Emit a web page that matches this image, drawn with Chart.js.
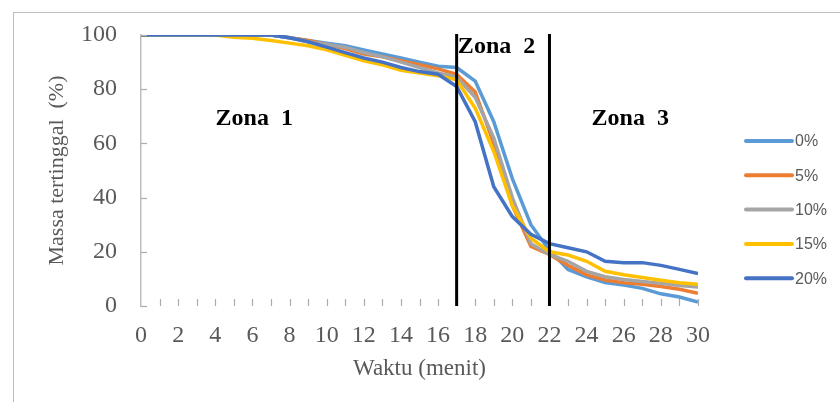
<!DOCTYPE html>
<html lang="id">
<head>
    <meta charset="UTF-8">
    <title>Massa tertinggal</title>
    <script src="https://cdn.jsdelivr.net/npm/chart.js"></script>
    <style>
        html, body { margin: 0; padding: 0; background: #fff; }
        #wrap { position: relative; width: 840px; height: 402px; }
        #frame {
            position: absolute; left: 13px; top: 12px; right: -2px; bottom: -2px;
            border-top: 1.5px solid #BDBDBD; border-left: 1.5px solid #BDBDBD;
            pointer-events: none;
        }
        canvas { position: absolute; left: 0; top: 0; }
    </style>
</head>
<body>
<div id="wrap">
    <canvas id="chart" width="840" height="402"></canvas>
    <div id="frame"></div>
</div>
<script>
    // Waktu (menit)
    const waktu = [0,1,2,3,4,5,6,7,8,9,10,11,12,13,14,15,16,17,18,19,20,21,22,23,24,25,26,27,28,29,30];

    // Massa tertinggal (%) per variasi
    const seriesLabels = ['0%', '5%', '10%', '15%', '20%'];
    const seriesColors = ['#5B9BD5', '#ED7D31', '#A5A5A5', '#FFC000', '#4472C4'];

    const massa0  = [100,100,100,100,100,100,100,100,99,98,97,96,94.5,93,91.5,90,88.5,88,83,68,47,30,20.5,13.5,10.8,8.7,7.7,6.5,4.5,3.3,1.5];
    const massa5  = [100,100,100,100,100,100,100,100,99,98,96.5,95,93,92,90.5,89,87.5,85.5,79,60,37,22,19,15,11.5,9.6,8.6,8,7.2,6.2,4.7];
    const massa10 = [100,100,100,100,100,100,100,100,99,97.5,96.5,95.5,93.5,92,90,88,86,84.5,77,62,40,23,19,16.5,12.8,10.8,9.8,9,8.4,7.6,7];
    const massa15 = [100,100,100,100,100,99.2,98.8,98,97,96,94.5,92.5,90.5,89,87,86,85,83.5,73,57,37,25,20,18.8,16.5,12.8,11.5,10.5,9.5,8.6,8];
    const massa20 = [100,100,100,100,100,100,100,100,99,97.5,95.5,93.5,91.5,90,88,86.5,85.5,81,68,44,33,26.5,23,21.5,20,16.5,16,16,15,13.5,12];

    // Batas zona dan label zona
    const zoneBounds = [17, 22];
    const zoneLabels = ['Zona  1', 'Zona  2', 'Zona  3'];
    const zoneAnchors = [[6.1, 69.2], [19.15, 95.6], [26.35, 69.2]];

    const serif = '"Liberation Serif", "Times New Roman", serif';
    const allSeries = [massa0, massa5, massa10, massa15, massa20];

    const datasets = allSeries.map((vals, i) => ({
        label: seriesLabels[i],
        data: vals.map((v, k) => ({ x: waktu[k], y: v })),
        borderColor: seriesColors[i],
        backgroundColor: seriesColors[i],
        borderWidth: 3.5,
        pointRadius: 0,
        tension: 0,
        order: allSeries.length - 1 - i
    }));

    // Garis zona, label zona, tick ke dalam, dan legenda
    const extras = {
        id: 'extras',
        afterDatasetsDraw(chart) {
            const ctx = chart.ctx;
            const xs = chart.scales.x, ys = chart.scales.y;
            const area = chart.chartArea;
            ctx.save();

            // tick marks pointing inward
            ctx.strokeStyle = '#ABABAB';
            ctx.lineWidth = 1.2;
            xs.ticks.forEach(t => {
                if (t.value === 0) return;
                const px = Math.round(xs.getPixelForValue(t.value)) + 0.5;
                ctx.beginPath();
                ctx.moveTo(px, area.bottom);
                ctx.lineTo(px, area.bottom - 7);
                ctx.stroke();
            });
            ys.ticks.forEach(t => {
                const py = Math.round(ys.getPixelForValue(t.value)) + 0.5;
                ctx.beginPath();
                ctx.moveTo(area.left, py);
                ctx.lineTo(area.left + 6, py);
                ctx.stroke();
            });

            // zone lines
            ctx.strokeStyle = '#000';
            ctx.lineWidth = 3;
            zoneBounds.forEach(b => {
                const px = xs.getPixelForValue(b);
                ctx.beginPath();
                ctx.moveTo(px, area.top - 1);
                ctx.lineTo(px, area.bottom);
                ctx.stroke();
            });

            // zone labels
            ctx.fillStyle = '#000';
            ctx.font = 'bold 24px ' + serif;
            ctx.textAlign = 'center';
            ctx.textBaseline = 'middle';
            zoneLabels.forEach((txt, i) => {
                ctx.fillText(txt, xs.getPixelForValue(zoneAnchors[i][0]), ys.getPixelForValue(zoneAnchors[i][1]));
            });

            // legend
            ctx.font = '16px "Liberation Sans", Arial, sans-serif';
            ctx.textAlign = 'left';
            ctx.fillStyle = '#595959';
            ctx.lineCap = 'round';
            chart.data.datasets.forEach((ds, i) => {
                const ly = 141 + i * 34.3;
                ctx.strokeStyle = ds.borderColor;
                ctx.lineWidth = 4;
                ctx.beginPath();
                ctx.moveTo(746, ly);
                ctx.lineTo(792, ly);
                ctx.stroke();
                ctx.fillText(ds.label, 795, ly + 1);
            });
            ctx.restore();
        }
    };

    new Chart(document.getElementById('chart'), {
        type: 'line',
        data: { datasets: datasets },
        options: {
            responsive: false,
            animation: false,
            events: [],
            layout: { padding: { left: 0, top: 35, right: 142, bottom: 0 } },
            plugins: { legend: { display: false }, tooltip: { enabled: false } },
            scales: {
                x: {
                    type: 'linear',
                    min: 0, max: 30,
                    afterFit: s => { s.height = 96; s.paddingLeft = 0; s.paddingRight = 0; },
                    ticks: {
                        stepSize: 1,
                        autoSkip: false,
                        maxRotation: 0,
                        padding: 15,
                        color: '#595959',
                        font: { family: serif, size: 24 },
                        callback: v => (v % 2 === 0 ? String(v) : '')
                    },
                    grid: { drawOnChartArea: false, drawTicks: false },
                    border: { display: false },
                    title: {
                        display: true,
                        text: 'Waktu (menit)',
                        color: '#595959',
                        font: { family: serif, size: 23 },
                        padding: { top: 0, bottom: 19 }
                    }
                },
                y: {
                    min: 0, max: 100,
                    afterFit: s => { s.width = 141; s.paddingTop = 0; s.paddingBottom = 0; },
                    ticks: {
                        stepSize: 20,
                        padding: 24,
                        color: '#595959',
                        font: { family: serif, size: 24 }
                    },
                    grid: { drawOnChartArea: false, drawTicks: false },
                    border: { display: true, color: '#BDBDBD', width: 1.5 },
                    title: {
                        display: true,
                        text: 'Massa tertinggal  (%)',
                        color: '#595959',
                        font: { family: serif, size: 22 },
                        padding: { top: 44, bottom: 0 }
                    }
                }
            }
        },
        plugins: [extras]
    });
</script>
</body>
</html>
